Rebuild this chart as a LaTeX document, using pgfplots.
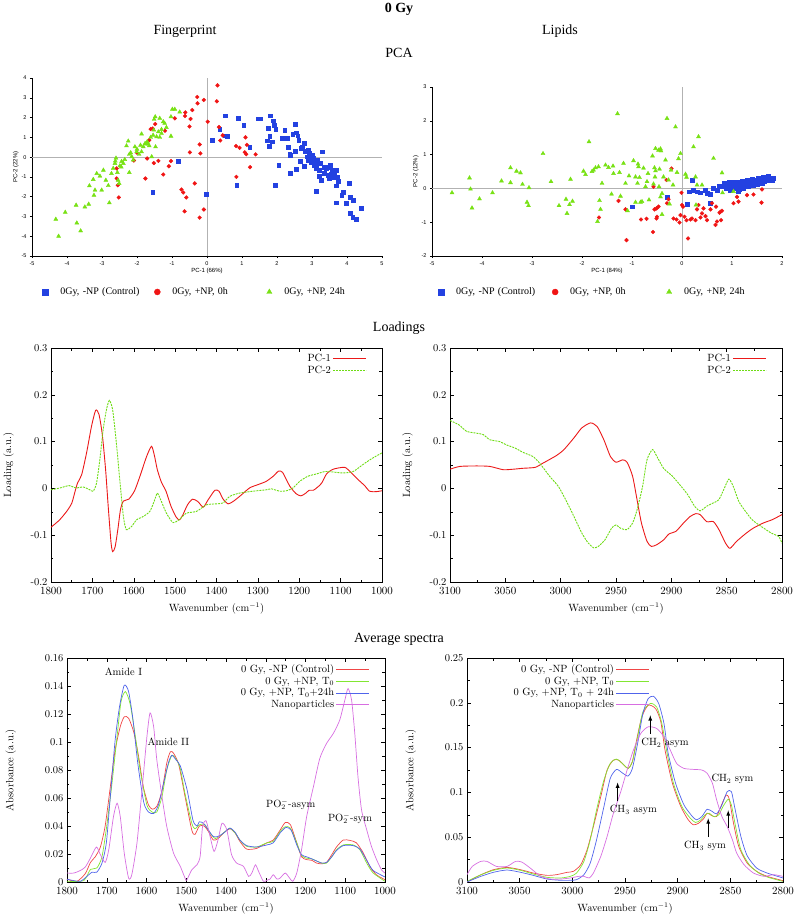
\documentclass[border=0pt]{standalone}
\usepackage{fontspec}
\usepackage{pgfplots}
\pgfplotsset{compat=1.18}
\newfontfamily\titlefont{Liberation Serif}
\newfontfamily\sansfont{Liberation Sans}
\definecolor{sblue}{RGB}{35,65,225}
\definecolor{sred}{RGB}{240,20,20}
\definecolor{sgreen}{RGB}{120,225,20}
\definecolor{lred}{RGB}{235,25,25}
\definecolor{lgreen}{RGB}{110,220,20}
\definecolor{cred}{RGB}{240,70,70}
\definecolor{cgreen}{RGB}{130,230,50}
\definecolor{cblue}{RGB}{80,100,235}
\definecolor{cmag}{RGB}{215,110,225}
\pgfplotsset{
  scat/.style={scale only axis, width=350pt,
    axis x line=bottom, axis y line=left, axis line style={-, black, line width=0.6pt},
    tick align=outside, major tick length=2pt, tick style={black, line width=0.4pt},
    ticklabel style={font=\sansfont\fontsize{5.5}{6}\selectfont},
    /pgf/number format/assume math mode=true,
    label style={font=\sansfont\fontsize{6}{7}\selectfont},
    xlabel style={yshift=4pt}, ylabel style={yshift=-4pt},
    legend columns=3, legend cell align=left,
    legend style={draw=none, fill=none, inner sep=0pt, anchor=west,
      font=\titlefont\fontsize{10}{11}\selectfont,
      nodes={inner sep=2pt, text width=88pt, align=left},
      /tikz/every even column/.append style={column sep=4pt}},
    legend image code/.code={\path[draw=none] (-3pt,0pt) -- (13pt,0pt); \path[draw=none,##1,mark size=3pt] plot coordinates {(0pt,0pt)};},
  },
  bm/.style={only marks, mark=square*, mark size=1.9pt, sblue, mark options={draw=sblue, fill=sblue}},
  rm/.style={only marks, mark=*, mark size=1.9pt, sred, mark options={draw=sred, fill=sred}},
  gm/.style={only marks, mark=triangle*, mark size=2.3pt, sgreen, mark options={draw=sgreen, fill=sgreen}},
  gp/.style={scale only axis, x dir=reverse,
    axis line style={black, line width=0.5pt},
    tick align=inside, major tick length=4pt, minor tick length=2.5pt,
    minor x tick num=1, minor y tick num=1,
    tick style={black, line width=0.4pt},
    ticklabel style={font=\fontsize{10.5}{12}\selectfont},
    xticklabel style={yshift=-2pt},
    label style={font=\fontsize{10.5}{12}\selectfont},
    xlabel style={yshift=-2pt},
    /pgf/number format/1000 sep={}, scaled ticks=false,
    legend cell align=right, legend plot pos=right,
    legend style={draw=none, fill=none, inner sep=0pt, anchor=north east,
      font=\fontsize{10.5}{12}\selectfont, row sep=-1pt},
    legend image code/.code={\draw[##1] (0pt,0pt) -- (33pt,0pt);},
  },
}
\begin{document}
\begin{tikzpicture}
\useasboundingbox (0pt,0pt) rectangle (798pt,-920pt);
% titles
\node[font=\titlefont\bfseries\fontsize{14}{16}\selectfont] at (399pt,-9pt) {0 Gy};
\node[font=\titlefont\fontsize{14}{16}\selectfont] at (185pt,-31pt) {Fingerprint};
\node[font=\titlefont\fontsize{14}{16}\selectfont] at (560pt,-31pt) {Lipids};
\node[font=\titlefont\fontsize{14}{16}\selectfont] at (399pt,-53pt) {PCA};
\node[font=\titlefont\fontsize{14}{16}\selectfont] at (399pt,-328pt) {Loadings};
\node[font=\titlefont\fontsize{14}{16}\selectfont] at (399pt,-639pt) {Average spectra};

% ---------- PCA fingerprint ----------
\begin{axis}[scat, at={(32pt,-256pt)}, anchor=south west, height=178pt,
  xmin=-5, xmax=5, ymin=-5, ymax=4, xtick={-5,...,5}, ytick={-5,...,4},
  xlabel={PC-1 (66\%)}, ylabel={PC-2 (22\%)},
  legend style={at={(axis description cs:0.029,-0.202)}}]
\addplot[gray!60, line width=0.6pt, forget plot] coordinates {(0,-5) (0,4)};
\addplot[gray!60, line width=0.6pt, forget plot] coordinates {(-5,0) (5,0)};
\addplot[bm] coordinates {
(-0.83,-0.22) (-1.55,-1.79) (-0.02,-1.89) (0.14,0.86) (0.36,1.4) (0.51,2.09) (0.51,1.08) (0.58,1.06) (0.9,1.96) (1.05,1.6) (1.22,0.52) (0.85,-1.44) (1.45,1.94) (1.53,1.94) (1.8,2.09) (1.88,1.84) (1.93,1.62) (1.74,1.47) (1.96,1.42) (1.79,1.06) (1.72,0.83) (1.77,0.56) (1.86,0.78) (1.94,-1.42) (2.05,-0.42) (2.15,0.95) (2.22,1.37) (2.28,0.96) (2.32,0.52) (2.36,0.15) (2.38,0.08) (2.37,-0.83) (2.45,1.15) (2.53,1.66) (2.55,1.23) (2.59,1.08) (2.62,0.86) (2.55,-0.62) (2.53,0.3) (2.66,-0.22) (2.73,0.52) (2.78,0.69) (2.81,0.3) (2.85,0.02) (2.89,-0.15) (2.77,-0.44) (2.92,0.19) (2.95,-0.02) (2.98,-0.25) (3.03,-0.07) (3.07,-0.41) (3.11,-0.57) (3.16,-0.15) (3.21,-0.66) (3.23,-0.32) (3.12,-1.72) (3.3,0.27) (3.27,-1.17) (3.35,-0.83) (3.4,-0.57) (3.48,-0.49) (3.52,-0.41) (3.57,-0.66) (3.64,-0.91) (3.68,-0.66) (3.73,-1.0) (3.45,-0.91) (3.49,-1.08) (3.68,-2.3) (3.68,-1.45) (3.75,-1.22) (3.85,-1.93) (3.88,-1.79) (3.98,-2.35) (4.07,-1.33) (4.09,-2.01) (4.17,-2.18) (4.1,-2.82) (4.16,-3.02) (4.27,-3.13) (4.41,-2.58) (3.0,0.1) (3.1,-0.3) (3.35,-0.5) (3.55,-0.85) (2.7,0.45) (3.2,-0.95) (3.6,-1.0) (2.9,0.35)};
\addlegendentry{0Gy, -NP (Control)}
\addplot[rm] coordinates {
(0.3,3.63) (-0.28,3.04) (-0.27,2.72) (-0.09,2.89) (0.28,2.82) (-0.42,2.38) (-0.62,2.26) (-0.63,2.08) (-0.47,1.93) (-0.92,1.96) (0.02,1.79) (-0.5,1.55) (0.34,1.52) (-1.48,1.67) (-1.61,1.42) (-1.2,1.33) (1.1,1.0) (0.38,0.84) (-0.21,0.64) (-0.19,0.19) (-0.49,0.24) (0.83,0.56) (0.93,0.47) (1.14,0.62) (1.08,0.24) (1.12,0.15) (1.39,0.14) (1.23,-0.51) (-1.65,0.86) (-2.0,0.22) (-2.09,-0.17) (-1.71,-0.07) (-1.52,-0.3) (-1.39,-0.19) (-1.03,-0.2) (-1.09,-0.46) (-1.25,-0.88) (-1.76,-1.08) (-2.58,-0.57) (-2.58,-1.08) (-2.55,-1.42) (-2.52,-2.04) (-0.35,-1.33) (-0.73,-1.64) (-0.68,-1.79) (-0.59,-2.04) (0.84,-1.0) (-0.64,-2.74) (-0.09,-2.65) (-0.21,-3.06) (0.45,1.1) (-1.55,1.45)};
\addlegendentry{0Gy, +NP, 0h}
\addplot[gm] coordinates {
(-4.32,-3.14) (-4.24,-4.0) (-4.05,-2.79) (-3.74,-2.43) (-3.72,-3.33) (-3.61,-3.73) (-3.49,-2.52) (-3.38,-2.38) (-3.36,-1.45) (-3.23,-1.93) (-3.2,-1.67) (-3.25,-1.13) (-3.15,-0.83) (-3.06,-0.96) (-3.01,-1.67) (-2.96,-0.66) (-2.89,-1.17) (-2.82,-1.44) (-2.79,-2.31) (-2.73,-0.83) (-2.68,-0.57) (-2.63,-0.32) (-2.6,-0.05) (-2.56,-0.78) (-2.54,-1.17) (-2.51,-1.33) (-2.49,-0.44) (-2.44,-0.22) (-2.39,-0.32) (-2.35,-0.12) (-2.25,0.81) (-2.3,0.57) (-2.22,0.14) (-2.18,0.22) (-2.15,0.02) (-2.11,-0.15) (-2.22,-0.78) (-2.06,0.52) (-2.01,0.27) (-1.94,0.14) (-1.87,0.27) (-1.82,0.52) (-1.75,0.66) (-1.71,0.78) (-1.65,0.57) (-1.87,1.17) (-1.77,0.69) (-1.68,0.66) (-1.61,1.0) (-1.54,1.11) (-1.52,1.37) (-1.48,2.04) (-1.51,1.91) (-1.58,0.02) (-1.47,0.52) (-1.44,1.03) (-1.39,1.28) (-1.35,1.96) (-1.3,1.4) (-1.25,1.79) (-1.21,1.71) (-1.16,1.5) (-1.03,2.04) (-0.99,2.42) (-0.92,2.42) (-0.78,2.28) (-1.03,1.06) (-1.3,1.2) (-1.35,1.0) (-2.62,-0.2) (-2.45,-0.5) (-2.0,0.4) (-1.9,0.6)};
\addlegendentry{0Gy, +NP, 24h}
\end{axis}

% ---------- PCA lipids ----------
\begin{axis}[scat, at={(432pt,-256pt)}, anchor=south west, height=169pt,
  xmin=-5, xmax=2, ymin=-2, ymax=3, xtick={-5,...,2}, ytick={-2,...,3},
  xlabel={PC-1 (84\%)}, ylabel={PC-2 (12\%)},
  legend style={at={(axis description cs:0.017,-0.213)}, nodes={text width=90pt}}]
\addplot[gray!60, line width=0.6pt, forget plot] coordinates {(0,-2) (0,3)};
\addplot[gray!60, line width=0.6pt, forget plot] coordinates {(-5,0) (2,0)};
\addplot[bm] coordinates {
(-0.99,-0.54) (-0.3,-0.27) (0.21,0.25) (0.11,-0.46) (0.15,-0.1) (0.23,-0.05) (0.3,-0.1) (0.37,-0.13) (0.47,-0.05) (0.5,-0.15) (0.57,-0.18) (0.62,0.0) (0.57,-0.44)
(0.8,0.05) (0.85,0.15) (0.88,0.0) (0.9,0.1) (0.95,0.18) (0.97,-0.05) (1.0,0.05) (1.0,0.15) (1.03,0.2) (1.05,0.0) (1.08,0.1) (1.1,0.18) (1.12,-0.08) (1.15,0.05) (1.17,0.15) (1.2,0.22) (1.22,0.0) (1.25,0.1) (1.28,0.18) (1.3,0.25) (1.32,0.05) (1.35,0.15) (1.38,0.22) (1.4,0.28) (1.42,0.08) (1.45,0.18) (1.48,0.25) (1.5,0.12) (1.52,0.3) (1.55,0.2) (1.58,0.27) (1.6,0.15) (1.62,0.32) (1.65,0.22) (1.68,0.3) (1.7,0.25) (1.72,0.35) (1.75,0.28) (1.8,0.25) (1.82,0.3) (0.7,-0.05) (0.75,0.08) (1.15,-0.02) (1.25,0.2) (1.4,0.12) (1.6,0.22)};
\addlegendentry{0Gy, -NP (Control)}
\addplot[rm] coordinates {
(-1.27,-0.37) (-1.13,-0.62) (-1.11,-1.53) (-1.66,-0.86) (-0.82,-0.92) (-0.71,-0.9) (-0.5,-0.84) (-0.58,-1.29) (-0.51,-0.59) (-0.47,-0.54) (-0.55,-0.62) (-0.51,-0.89) (-0.57,0.05) (-0.31,0.25) (-0.21,0.59) (-0.3,-0.44) (-0.27,-0.32) (-0.17,-0.89) (-0.11,-0.92) (-0.05,-1.01) (-0.03,-0.79) (-0.01,-0.13) (0.0,-0.49) (0.02,-0.54) (0.05,-0.84) (0.09,-0.94) (0.12,-1.48) (0.17,-0.92) (0.2,-0.89) (0.27,-0.94) (0.3,-0.62) (0.33,-0.49) (0.37,-0.86) (0.4,-0.74) (0.43,-0.59) (0.47,-0.82) (0.5,-0.94) (0.57,-0.62) (0.6,-0.44) (0.67,-1.08) (0.7,-0.98) (0.77,-0.69) (0.8,-0.66) (1.03,-0.44) (1.1,-0.25) (1.13,-0.39) (1.3,-0.2) (1.43,-0.18) (1.59,-0.42) (1.6,-0.03) (0.68,-0.54) (0.75,-0.72) (0.78,-0.94)};
\addlegendentry{0Gy, +NP, 0h}
\addplot[gm] coordinates {
(-4.6,-0.13) (-4.25,0.31) (-4.23,-0.02) (-4.2,-0.58) (-4.05,-0.31) (-3.79,-0.13) (-3.61,0.22) (-3.43,0.61) (-3.43,0.17) (-3.31,0.51) (-3.23,0.46) (-3.19,0.12) (-3.1,-0.41) (-3.07,-0.51) (-3.06,0.02) (-2.78,1.03) (-2.62,0.2) (-2.46,-0.51) (-2.32,-0.32) (-2.23,0.27) (-2.25,-0.48) (-2.19,-0.38) (-2.3,-0.74) (-1.97,0.51) (-1.93,0.41) (-1.86,1.38) (-1.8,0.5) (-1.77,0.54) (-1.73,0.61) (-1.65,-0.36) (-1.63,-0.62) (-1.69,-0.98) (-1.67,0.64) (-1.6,0.15) (-1.53,0.69) (-1.47,0.62) (-1.41,-0.17) (-1.38,0.66) (-1.37,0.44) (-1.29,2.21) (-1.25,0.47) (-1.23,-0.23) (-1.17,0.74) (-1.13,0.15) (-1.09,-0.66) (-1.06,0.37) (-0.97,0.82) (-0.93,0.34) (-0.93,-0.41) (-0.89,0.15) (-0.88,0.72) (-0.87,0.64) (-0.85,0.32) (-0.83,-0.41) (-0.8,-0.39) (-0.77,0.6) (-0.73,0.05) (-0.7,0.2) (-0.68,0.44) (-0.66,-0.34) (-0.59,0.96) (-0.57,0.13) (-0.55,0.61) (-0.54,0.34) (-0.53,0.52) (-0.53,1.18) (-0.47,1.13) (-0.43,1.17) (-0.42,1.11) (-0.4,-0.77) (-0.46,0.05) (-0.45,0.57) (-0.4,-0.15) (-0.37,0.34) (-0.33,0.84) (-0.3,2.07) (-0.27,0.25) (-0.22,0.54) (-0.18,0.1) (-0.13,1.82) (-0.07,0.88) (-0.03,1.03) (-0.1,0.47) (0.07,0.42) (0.09,0.33) (0.23,1.23) (0.27,0.34) (0.3,0.1) (0.33,1.53) (0.4,0.1) (0.63,0.89) (0.8,0.46) (0.81,-0.13) (1.03,-0.09) (-0.25,-0.46) (-0.43,-0.25) (0.28,-0.49)};
\addlegendentry{0Gy, +NP, 24h}
\end{axis}

% ---------- Loadings fingerprint ----------
\begin{axis}[gp, at={(51pt,-582pt)}, anchor=south west, width=331pt, height=234pt,
  xmin=1000, xmax=1800, ymin=-0.2, ymax=0.3,
  xtick={1000,1100,...,1800}, ytick={-0.2,-0.1,0,0.1,0.2,0.3},
  yticklabels={-0.2,-0.1,0,0.1,0.2,0.3},
  xlabel={Wavenumber (cm$^{-1}$)}, ylabel={Loading (a.u.)},
  ylabel style={yshift=10pt},
  legend style={at={(0.955,0.983)}}]
\addplot[lred, line width=0.9pt, smooth, tension=0.4] coordinates {
(1800,-0.083)(1780,-0.068)(1762,-0.049)(1750,-0.032)(1742,-0.007)(1736,0.011)(1726,0.029)(1714,0.076)(1702,0.133)(1692,0.167)(1684,0.158)(1676,0.115)(1668,0.04)(1662,-0.035)(1655,-0.115)(1651,-0.135)(1645,-0.125)(1638,-0.085)(1632,-0.045)(1625,-0.027)(1612,-0.023)(1598,-0.005)(1585,0.026)(1569,0.068)(1557,0.09)(1550,0.07)(1543,0.04)(1533,0.013)(1522,-0.006)(1510,-0.038)(1497,-0.062)(1489,-0.067)(1481,-0.056)(1470,-0.035)(1458,-0.023)(1445,-0.028)(1432,-0.04)(1420,-0.024)(1404,-0.004)(1394,-0.006)(1384,-0.023)(1372,-0.033)(1360,-0.028)(1344,-0.017)(1320,0.001)(1300,0.008)(1280,0.015)(1263,0.026)(1250,0.037)(1240,0.034)(1223,0.005)(1208,-0.011)(1196,-0.016)(1184,-0.01)(1176,-0.004)(1166,-0.004)(1158,0.001)(1146,0.011)(1134,0.031)(1118,0.041)(1090,0.045)(1074,0.033)(1058,0.019)(1042,0.006)(1030,-0.006)(1015,-0.007)(1000,-0.005)};
\addlegendentry{PC-1}
\addplot[lgreen, line width=0.9pt, dash pattern=on 2pt off 1pt, smooth, tension=0.4] coordinates {
(1800,-0.003)(1778,0.001)(1756,0.006)(1740,0.001)(1722,0.003)(1706,-0.003)(1698,-0.006)(1690,0.011)(1682,0.061)(1674,0.125)(1666,0.168)(1659,0.188)(1651,0.168)(1642,0.097)(1633,0.011)(1625,-0.06)(1618,-0.088)(1605,-0.081)(1593,-0.067)(1577,-0.06)(1561,-0.049)(1550,-0.026)(1543,-0.01)(1535,-0.024)(1521,-0.053)(1505,-0.073)(1489,-0.066)(1473,-0.053)(1448,-0.049)(1424,-0.035)(1400,-0.033)(1384,-0.031)(1368,-0.017)(1344,-0.01)(1312,-0.006)(1280,-0.003)(1267,-0.001)(1247,-0.006)(1231,-0.005)(1215,0.001)(1199,0.015)(1179,0.026)(1158,0.031)(1138,0.036)(1118,0.035)(1094,0.033)(1070,0.036)(1046,0.051)(1026,0.063)(1000,0.076)};
\addlegendentry{PC-2}
\end{axis}

% ---------- Loadings lipids ----------
\begin{axis}[gp, at={(450pt,-582pt)}, anchor=south west, width=332pt, height=234pt,
  xmin=2800, xmax=3100, ymin=-0.2, ymax=0.3,
  xtick={2800,2850,...,3100}, ytick={-0.2,-0.1,0,0.1,0.2,0.3},
  yticklabels={-0.2,-0.1,0,0.1,0.2,0.3},
  xlabel={Wavenumber (cm$^{-1}$)}, ylabel={Loading (a.u.)},
  ylabel style={yshift=10pt},
  legend style={at={(0.955,0.983)}}]
\addplot[lred, line width=0.9pt, smooth, tension=0.4] coordinates {
(3100,0.041)(3091,0.047)(3076,0.048)(3064,0.047)(3052,0.04)(3043,0.041)(3034,0.043)(3023,0.045)(3016,0.054)(3004,0.07)(2997,0.083)(2988,0.108)(2981,0.129)(2973,0.14)(2967,0.132)(2961,0.104)(2955,0.068)(2950,0.056)(2944,0.061)(2940,0.056)(2935,0.026)(2931,-0.024)(2927,-0.074)(2922,-0.113)(2918,-0.124)(2913,-0.12)(2907,-0.11)(2902,-0.097)(2896,-0.092)(2889,-0.074)(2883,-0.06)(2878,-0.054)(2874,-0.056)(2868,-0.071)(2862,-0.071)(2857,-0.088)(2851,-0.117)(2847,-0.128)(2841,-0.113)(2832,-0.095)(2826,-0.085)(2817,-0.074)(2809,-0.067)(2800,-0.056)};
\addlegendentry{PC-1}
\addplot[lgreen, line width=0.9pt, dash pattern=on 2pt off 1pt, smooth, tension=0.4] coordinates {
(3100,0.145)(3092,0.136)(3085,0.122)(3076,0.118)(3070,0.115)(3064,0.104)(3055,0.1)(3049,0.093)(3041,0.086)(3034,0.077)(3025,0.068)(3019,0.054)(3010,0.026)(3002,0.004)(2994,-0.031)(2988,-0.06)(2981,-0.095)(2975,-0.117)(2970,-0.127)(2966,-0.124)(2960,-0.11)(2954,-0.085)(2950,-0.078)(2946,-0.085)(2940,-0.088)(2935,-0.074)(2931,-0.046)(2926,0.004)(2922,0.061)(2917,0.083)(2913,0.068)(2907,0.043)(2899,0.026)(2891,0.004)(2885,-0.014)(2879,-0.038)(2874,-0.048)(2868,-0.038)(2862,-0.031)(2857,-0.024)(2852,0.001)(2848,0.02)(2844,0.004)(2839,-0.028)(2833,-0.049)(2827,-0.067)(2819,-0.081)(2810,-0.095)(2803,-0.103)(2800,-0.117)};
\addlegendentry{PC-2}
\end{axis}

% ---------- Spectra fingerprint ----------
\begin{axis}[gp, at={(67pt,-882pt)}, anchor=south west, width=318pt, height=224pt,
  xmin=1000, xmax=1800, ymin=0, ymax=0.16,
  xtick={1000,1100,...,1800}, ytick={0,0.02,...,0.16},
  yticklabels={0,0.02,0.04,0.06,0.08,0.1,0.12,0.14,0.16},
  xlabel={Wavenumber (cm$^{-1}$)}, ylabel={Absorbance (a.u.)},
  ylabel style={yshift=22pt},
  legend style={at={(0.953,0.982)}}]
\addplot[cred, line width=0.7pt, smooth, tension=0.4] coordinates {
(1800,0.002)(1775,0.0005)(1754,0.006)(1741,0.014)(1729,0.018)(1716,0.025)(1704,0.04)(1691,0.068)(1679,0.094)(1666,0.111)(1656,0.118)(1645,0.117)(1632,0.107)(1620,0.09)(1608,0.068)(1595,0.055)(1585,0.052)(1574,0.054)(1561,0.065)(1549,0.085)(1540,0.093)(1532,0.092)(1519,0.084)(1503,0.061)(1486,0.037)(1478,0.034)(1467,0.04)(1455,0.04)(1444,0.036)(1432,0.03)(1420,0.031)(1406,0.035)(1390,0.038)(1377,0.035)(1365,0.029)(1348,0.0235)(1323,0.024)(1297,0.028)(1281,0.03)(1264,0.037)(1251,0.0425)(1238,0.041)(1222,0.028)(1210,0.018)(1197,0.016)(1184,0.0155)(1172,0.0135)(1159,0.013)(1147,0.014)(1134,0.0195)(1122,0.025)(1105,0.030)(1088,0.0297)(1072,0.028)(1055,0.021)(1038,0.011)(1021,0.005)(1000,0.0017)};
\addlegendentry{0 Gy, -NP (Control)}
\addplot[cgreen, line width=0.7pt, smooth, tension=0.4] coordinates {
(1800,0.0005)(1758,0.001)(1741,0.009)(1725,0.01)(1712,0.018)(1700,0.04)(1687,0.07)(1674,0.104)(1664,0.129)(1653,0.136)(1641,0.127)(1628,0.104)(1616,0.08)(1599,0.055)(1586,0.05)(1574,0.05)(1561,0.061)(1549,0.08)(1536,0.0905)(1524,0.087)(1515,0.081)(1503,0.063)(1486,0.042)(1478,0.038)(1466,0.041)(1453,0.041)(1440,0.035)(1427,0.031)(1415,0.033)(1398,0.037)(1390,0.0385)(1377,0.035)(1365,0.030)(1348,0.0255)(1323,0.025)(1297,0.028)(1281,0.029)(1264,0.036)(1251,0.0395)(1238,0.0385)(1222,0.028)(1210,0.019)(1197,0.017)(1184,0.0165)(1172,0.015)(1159,0.0135)(1147,0.0135)(1134,0.018)(1122,0.023)(1105,0.0265)(1080,0.0265)(1063,0.023)(1046,0.0135)(1030,0.0065)(1000,0.0005)};
\addlegendentry{0 Gy, +NP, T$_0$}
\addplot[cblue, line width=0.7pt, smooth, tension=0.4] coordinates {
(1800,0.002)(1783,0.001)(1766,0.0005)(1750,0.004)(1737,0.007)(1725,0.007)(1712,0.0135)(1701,0.028)(1691,0.061)(1679,0.101)(1668,0.125)(1656,0.1405)(1645,0.136)(1634,0.116)(1622,0.085)(1607,0.057)(1595,0.05)(1582,0.049)(1570,0.055)(1557,0.0705)(1544,0.086)(1536,0.0905)(1525,0.087)(1515,0.083)(1498,0.066)(1483,0.044)(1473,0.040)(1467,0.043)(1457,0.042)(1444,0.037)(1432,0.0325)(1420,0.0325)(1406,0.035)(1390,0.0385)(1377,0.0355)(1365,0.030)(1348,0.026)(1323,0.025)(1297,0.0265)(1281,0.028)(1264,0.035)(1249,0.039)(1236,0.037)(1222,0.0265)(1210,0.0195)(1197,0.018)(1184,0.0165)(1172,0.015)(1159,0.0135)(1147,0.014)(1134,0.018)(1122,0.0225)(1105,0.026)(1080,0.026)(1063,0.0235)(1046,0.0155)(1030,0.0083)(1000,0.0036)};
\addlegendentry{0 Gy, +NP, T$_0$+24h}
\addplot[cmag, line width=0.7pt, smooth, tension=0.4] coordinates {
(1800,0.0064)(1783,0.0064)(1766,0.0083)(1754,0.0107)(1741,0.0171)(1726,0.025)(1716,0.0195)(1704,0.014)(1695,0.023)(1683,0.0468)(1674,0.0563)(1666,0.0468)(1656,0.0207)(1645,0.0028)(1637,0.0052)(1624,0.0278)(1612,0.0634)(1599,0.1037)(1591,0.1208)(1582,0.1109)(1574,0.0871)(1561,0.061)(1549,0.0396)(1532,0.0207)(1515,0.0112)(1503,0.0028)(1499,0.0012)(1486,0.0088)(1473,0.0123)(1465,0.0183)(1459,0.0396)(1450,0.0437)(1440,0.0325)(1430,0.0218)(1420,0.0301)(1410,0.042)(1398,0.0373)(1386,0.0195)(1373,0.0135)(1356,0.0112)(1343,0.004)(1335,0.0064)(1326,0.0123)(1318,0.0076)(1306,0.0005)(1297,0.0012)(1289,0.0021)(1281,0.0052)(1272,0.0021)(1264,0.0028)(1251,0.0064)(1240,0.0028)(1232,0.0005)(1222,0.0064)(1210,0.023)(1197,0.0468)(1180,0.0681)(1164,0.0883)(1147,0.099)(1130,0.1061)(1114,0.1156)(1101,0.1299)(1093,0.1382)(1084,0.1299)(1076,0.1061)(1068,0.0753)(1059,0.0515)(1046,0.0373)(1034,0.0254)(1021,0.0159)(1009,0.0088)(1000,0.0064)};
\addlegendentry{Nanoparticles}
\node[font=\fontsize{10.5}{12}\selectfont] at (axis cs:1658,0.150) {Amide I};
\node[font=\fontsize{10.5}{12}\selectfont] at (axis cs:1545,0.100) {Amide II};
\node[font=\fontsize{10.5}{12}\selectfont] at (axis cs:1237,0.0555) {PO$_2^-$-asym};
\node[font=\fontsize{10.5}{12}\selectfont] at (axis cs:1088,0.0455) {PO$_2^-$-sym};
\end{axis}

% ---------- Spectra lipids ----------
\begin{axis}[gp, at={(467pt,-882pt)}, anchor=south west, width=316pt, height=224pt,
  xmin=2800, xmax=3100, ymin=0, ymax=0.25,
  xtick={2800,2850,...,3100}, ytick={0,0.05,...,0.25},
  yticklabels={0,0.05,0.1,0.15,0.2,0.25},
  xlabel={Wavenumber (cm$^{-1}$)}, ylabel={Absorbance (a.u.)},
  ylabel style={yshift=22pt},
  legend style={at={(0.579,0.982)}}]
\addplot[cred, line width=0.7pt, smooth, tension=0.4] coordinates {
(3100,0)(3087,0.008)(3075,0.0137)(3062,0.0163)(3049,0.0137)(3037,0.01)(3024,0.0074)(3015,0.0082)(3005,0.0108)(2999,0.0119)(2992,0.0193)(2986,0.036)(2980,0.062)(2973,0.0953)(2967,0.125)(2961,0.136)(2956,0.136)(2951,0.1306)(2947,0.1268)(2943,0.1343)(2939,0.1584)(2934,0.1843)(2928,0.1973)(2921,0.1936)(2916,0.1788)(2912,0.1472)(2905,0.1102)(2897,0.0842)(2890,0.0694)(2885,0.0638)(2880,0.0657)(2875,0.0712)(2872,0.0768)(2867,0.0738)(2863,0.0731)(2859,0.0842)(2854,0.0972)(2851,0.0924)(2847,0.0657)(2842,0.0397)(2834,0.0211)(2825,0.0119)(2815,0.0063)(2800,0.0015)};
\addlegendentry{0 Gy, -NP (Control)}
\addplot[cgreen, line width=0.7pt, smooth, tension=0.4] coordinates {
(3100,0.0007)(3087,0.008)(3075,0.013)(3062,0.0156)(3049,0.013)(3037,0.0089)(3024,0.0052)(3011,0.0045)(3002,0.0063)(2996,0.01)(2989,0.023)(2983,0.0471)(2977,0.0805)(2970,0.1139)(2964,0.1324)(2958,0.1372)(2952,0.1317)(2947,0.1268)(2943,0.1343)(2938,0.1621)(2933,0.1899)(2926,0.1992)(2920,0.1955)(2915,0.1769)(2910,0.1435)(2904,0.1102)(2896,0.0842)(2888,0.0712)(2883,0.0664)(2878,0.0694)(2874,0.0749)(2870,0.0768)(2866,0.0731)(2861,0.0749)(2857,0.0842)(2852,0.0924)(2849,0.086)(2845,0.0619)(2840,0.036)(2832,0.0193)(2823,0.01)(2814,0.0052)(2800,0.0007)};
\addlegendentry{0 Gy, +NP, T$_0$}
\addplot[cblue, line width=0.7pt, smooth, tension=0.4] coordinates {
(3100,0)(3087,0.0063)(3075,0.0108)(3062,0.0134)(3049,0.0108)(3037,0.0074)(3024,0.0033)(3011,0.0019)(3002,0.0019)(2996,0.0026)(2989,0.0082)(2983,0.0211)(2977,0.0471)(2970,0.0842)(2964,0.1157)(2958,0.1257)(2952,0.1213)(2947,0.1183)(2943,0.1268)(2938,0.1547)(2933,0.1881)(2928,0.2047)(2923,0.2073)(2918,0.1992)(2913,0.1769)(2909,0.1435)(2902,0.1102)(2894,0.086)(2886,0.0731)(2882,0.0694)(2877,0.0731)(2872,0.0812)(2867,0.0786)(2863,0.076)(2858,0.086)(2853,0.1009)(2849,0.1009)(2846,0.0842)(2840,0.0508)(2834,0.0293)(2825,0.0156)(2815,0.01)(2800,0.0045)};
\addlegendentry{0 Gy, +NP, T$_0$ + 24h}
\addplot[cmag, line width=0.7pt, smooth, tension=0.4] coordinates {
(3100,0.0082)(3095,0.0174)(3087,0.023)(3081,0.023)(3072,0.0174)(3062,0.0174)(3054,0.023)(3048,0.0223)(3040,0.0156)(3030,0.0063)(3021,0.0033)(3011,0.0033)(3002,0.0045)(2994,0.0063)(2989,0.0063)(2984,0.0045)(2980,0.01)(2973,0.0286)(2967,0.0508)(2961,0.0768)(2954,0.1009)(2948,0.125)(2942,0.1472)(2935,0.1658)(2928,0.1732)(2920,0.1714)(2913,0.1621)(2907,0.1472)(2901,0.1324)(2894,0.1268)(2885,0.1257)(2877,0.125)(2872,0.1213)(2867,0.1102)(2863,0.0916)(2858,0.0731)(2853,0.0619)(2848,0.0471)(2844,0.0323)(2837,0.0193)(2828,0.01)(2818,0.0063)(2809,0.0082)(2800,0.0063)};
\addlegendentry{Nanoparticles}
\draw[-latex, line width=0.8pt] (axis cs:2926,0.165) -- (axis cs:2926,0.186);
\draw[-latex, line width=0.8pt] (axis cs:2957,0.09) -- (axis cs:2957,0.111);
\draw[-latex, line width=0.8pt] (axis cs:2871,0.05) -- (axis cs:2871,0.071);
\draw[-latex, line width=0.8pt] (axis cs:2852,0.06) -- (axis cs:2852,0.08);
\node[font=\fontsize{10.5}{12}\selectfont] at (axis cs:2912,0.155) {CH$_2$ asym};
\node[font=\fontsize{10.5}{12}\selectfont] at (axis cs:2942,0.080) {CH$_3$ asym};
\node[font=\fontsize{10.5}{12}\selectfont] at (axis cs:2874,0.040) {CH$_3$ sym};
\node[font=\fontsize{10.5}{12}\selectfont] at (axis cs:2848,0.115) {CH$_2$ sym};
\end{axis}
\end{tikzpicture}
\end{document}
